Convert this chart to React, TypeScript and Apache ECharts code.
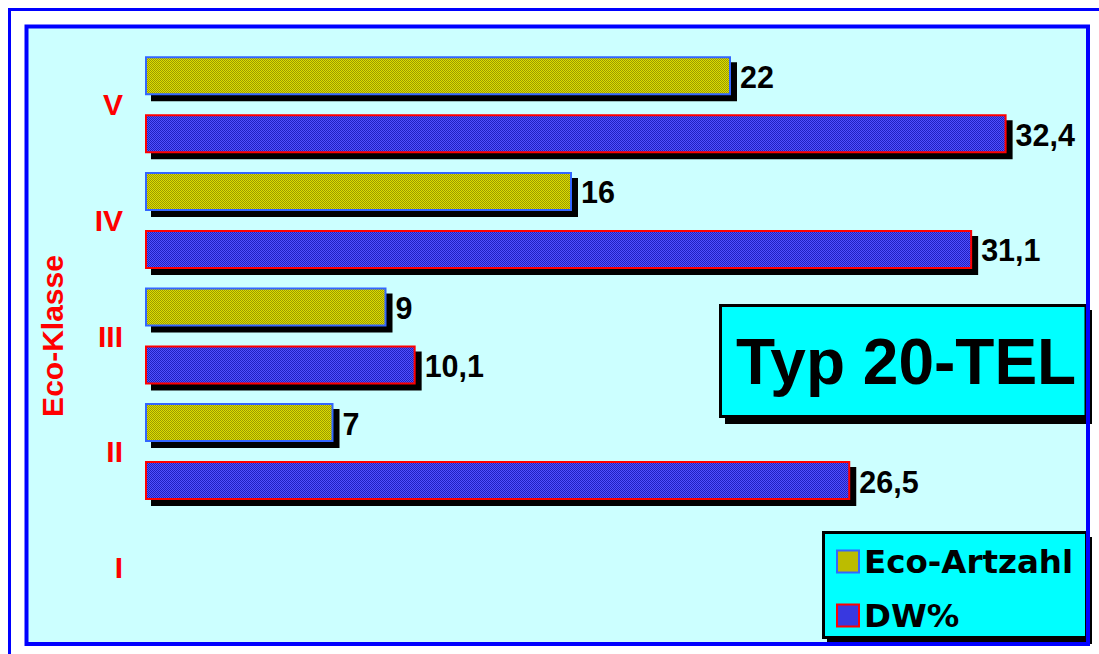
import React, { useEffect, useRef } from 'react';
import * as echarts from 'echarts';

const categories = ['I', 'II', 'III', 'IV', 'V'];
const ecoArtzahl: (number | null)[] = [null, 7, 9, 16, 22];
const dwPercent: (number | null)[] = [null, 26.5, 10.1, 31.1, 32.4];
const seriesNames = ['Eco-Artzahl', 'DW%'];
const axisName = 'Eco-Klasse';
const titleText = 'Typ 20-TEL';

function makePattern(light: string, dark: string) {
  const c = document.createElement('canvas');
  c.width = 2;
  c.height = 2;
  const ctx = c.getContext('2d')!;
  ctx.fillStyle = light;
  ctx.fillRect(0, 0, 2, 2);
  ctx.fillStyle = dark;
  ctx.fillRect(0, 0, 1, 1);
  ctx.fillRect(1, 1, 1, 1);
  return { image: c.toDataURL(), repeat: 'repeat', imageWidth: 2, imageHeight: 2 } as any;
}

function toData(values: (number | null)[]) {
  const out: number[][] = [];
  values.forEach((v, i) => {
    if (v != null) out.push([v, i]);
  });
  return out;
}

const FONT = '"Liberation Sans", Arial, sans-serif';

export default function App() {
  const ref = useRef<HTMLDivElement>(null);
  useEffect(() => {
    document.body.style.margin = '0';
    const chart = echarts.init(ref.current!, null, { renderer: 'svg' });
    const yellow = makePattern('#DDDD00', '#9A9A00');
    const blue = makePattern('#5050FF', '#2020C0');
    const yellowBorder = '#3366FF';
    const blueBorder = '#FF0000';

    const makeRender = (offRatio: number, fill: any, stroke: string) =>
      (params: any, api: any) => {
        const v = api.value(0);
        const idx = api.value(1);
        const p0 = api.coord([0, idx]);
        const p1 = api.coord([v, idx]);
        const band = api.size([0, 1])[1];
        const cy = p0[1] + offRatio * band;
        const h = 37;
        const x = p0[0] - 1;
        const w = p1[0] - x;
        const label = String(v).replace('.', ',');
        return {
          type: 'group',
          children: [
            {
              type: 'rect',
              shape: { x: x - 1 + 6, y: cy - h / 2 - 1 + 6, width: w + 2, height: h + 2 },
              style: { fill: '#000000' },
            },
            {
              type: 'rect',
              shape: { x, y: cy - h / 2, width: w, height: h },
              style: { fill, stroke, lineWidth: 2 },
            },
            {
              type: 'text',
              x: p1[0] + 1 + 9,
              y: cy + 1,
              style: {
                text: label,
                fill: '#000000',
                fontSize: 30.5,
                fontWeight: 'bold',
                fontFamily: FONT,
                align: 'left',
                verticalAlign: 'middle',
              },
            },
          ],
        };
      };

    chart.setOption({
      animation: false,
      textStyle: { fontFamily: FONT },
      title: {
        text: titleText,
        left: 736,
        top: 330,
        padding: 0,
        z: 12,
        textStyle: { fontSize: 64, fontWeight: 'bold', color: '#000000', fontFamily: FONT },
      },
      legend: {
        orient: 'vertical',
        left: 836,
        top: 545,
        itemWidth: 22,
        itemHeight: 22,
        itemGap: 21,
        z: 20,
        icon: 'rect',
        padding: 0,
        textStyle: { fontSize: 32.5, fontWeight: 'bold', color: '#000000', fontFamily: '"DejaVu Sans", sans-serif' },
        data: [
          { name: seriesNames[0], itemStyle: { color: yellow, borderColor: yellowBorder, borderWidth: 2 } },
          { name: seriesNames[1], itemStyle: { color: blue, borderColor: blueBorder, borderWidth: 2 } },
        ],
      },
      grid: { left: 147, right: 24.5, top: 47, bottom: 29, containLabel: false },
      xAxis: { type: 'value', min: 0, max: 35, show: false },
      yAxis: {
        type: 'category',
        data: categories,
        axisLine: { show: false },
        axisTick: { show: false },
        splitLine: { show: false },
        axisLabel: { color: '#FF0000', fontSize: 30, fontWeight: 'bold', margin: 24, fontFamily: FONT },
        name: axisName,
        nameLocation: 'middle',
        nameRotate: 90,
        nameGap: 80,
        nameTextStyle: { color: '#FF0000', fontSize: 30, fontWeight: 'bold', fontFamily: FONT },
      },
      graphic: [
        {
          type: 'rect', z: -100, silent: true,
          shape: { x: 9.5, y: 9.5, width: 1200, height: 800 },
          style: { fill: '#FFFFFF', stroke: '#0000FF', lineWidth: 3 },
        },
        {
          type: 'rect', z: -90, silent: true,
          shape: { x: 26.5, y: 26.5, width: 1061.5, height: 617.5 },
          style: { fill: '#CCFFFF' },
        },
        {
          type: 'rect', z: 10, silent: true,
          shape: { x: 725, y: 310, width: 367, height: 114 },
          style: { fill: '#000000' },
        },
        {
          type: 'rect', z: 11, silent: true,
          shape: { x: 720.5, y: 305.5, width: 365.5, height: 111 },
          style: { fill: '#00FFFF', stroke: '#000000', lineWidth: 3 },
        },
        {
          type: 'rect', z: 18, silent: true,
          shape: { x: 827, y: 537, width: 265, height: 107 },
          style: { fill: '#000000' },
        },
        {
          type: 'rect', z: 19, silent: true,
          shape: { x: 823.5, y: 532.5, width: 263, height: 105 },
          style: { fill: '#00FFFF', stroke: '#000000', lineWidth: 3 },
        },
        {
          type: 'rect', z: 50, silent: true,
          shape: { x: 26.5, y: 26.5, width: 1061.5, height: 617.5 },
          style: { fill: 'none', stroke: '#0000FF', lineWidth: 4 },
        },
      ],
      series: [
        {
          type: 'custom',
          name: seriesNames[0],
          itemStyle: { color: yellow, borderColor: yellowBorder, borderWidth: 2 },
          encode: { x: 0, y: 1 },
          data: toData(ecoArtzahl),
          renderItem: makeRender(-0.251, yellow, yellowBorder),
        },
        {
          type: 'custom',
          name: seriesNames[1],
          itemStyle: { color: blue, borderColor: blueBorder, borderWidth: 2 },
          encode: { x: 0, y: 1 },
          data: toData(dwPercent),
          renderItem: makeRender(0.251, blue, blueBorder),
        },
      ],
    });
    return () => chart.dispose();
  }, []);
  return <div ref={ref} style={{ position: 'absolute', left: 0, top: 0, width: 1099, height: 654 }} />;
}
